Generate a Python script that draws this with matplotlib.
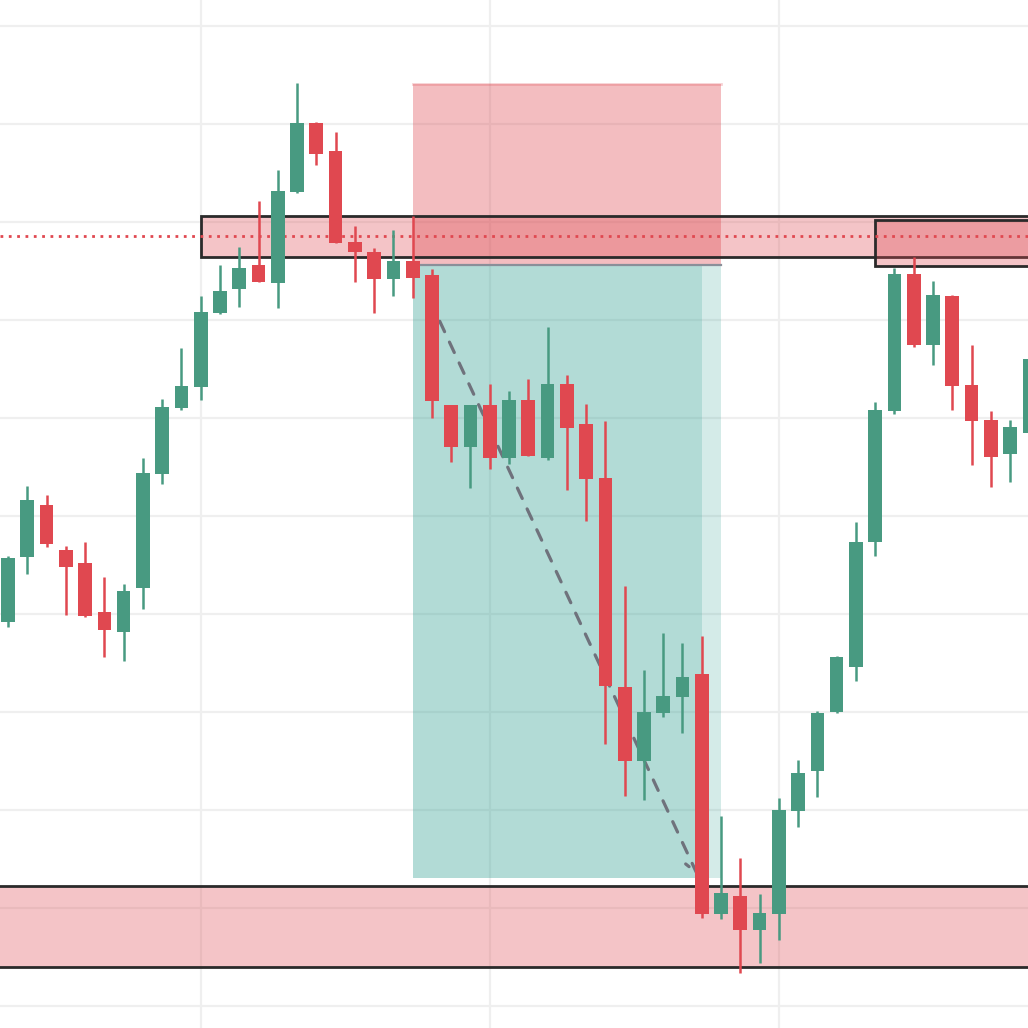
import matplotlib
matplotlib.use("Agg")
import matplotlib.pyplot as plt
from matplotlib.patches import Rectangle
from matplotlib.colors import to_rgba

# OHLC per bar (price units)
opens = [139.2, 145.8, 151.1, 146.5, 145.2, 140.2, 138.2, 142.7, 154.3, 161.0,
         163.2, 170.7, 173.2, 175.6, 173.8, 183.1, 190.1, 187.2, 178.0, 176.9,
         174.2, 176.0, 174.6, 161.3, 157.0, 161.3, 155.9, 161.8, 155.9, 163.5,
         159.4, 153.9, 132.6, 125.0, 129.9, 131.5, 133.9, 109.4, 111.2, 107.8,
         109.4, 119.9, 124.0, 130.0, 134.6, 147.3, 160.7, 174.7, 167.4, 172.4,
         163.4, 159.8, 156.3, 158.5]
highs = [145.9, 153.1, 152.1, 146.9, 147.3, 143.8, 143.1, 155.9, 161.9, 167.1,
         172.4, 175.6, 177.4, 182.1, 185.3, 194.2, 190.2, 189.2, 179.6, 177.3,
         179.2, 180.6, 175.2, 161.3, 161.3, 163.5, 162.8, 164.0, 169.3, 164.4,
         161.4, 159.7, 142.9, 134.3, 138.1, 137.0, 137.8, 119.4, 115.1, 111.4,
         121.2, 125.1, 130.1, 135.7, 149.4, 161.6, 175.3, 176.4, 174.0, 172.5,
         167.4, 160.7, 159.8, 166.9]
lows = [138.7, 144.1, 146.8, 139.9, 139.7, 135.6, 135.2, 140.5, 153.3, 160.8,
        161.8, 170.6, 171.3, 173.9, 171.2, 183.0, 185.8, 177.9, 173.9, 170.7,
        172.4, 172.2, 160.0, 155.5, 152.9, 154.8, 155.3, 156.1, 155.7, 152.7,
        149.5, 126.7, 121.4, 121.0, 129.5, 127.9, 109.0, 108.9, 103.4, 104.4,
        106.7, 118.3, 121.3, 129.9, 133.2, 145.9, 160.4, 167.2, 165.4, 160.8,
        155.2, 153.0, 153.5, 158.4]
closes = [145.7, 151.6, 147.1, 144.8, 139.8, 138.4, 142.3, 154.4, 161.1, 163.3,
          170.8, 173.0, 175.3, 173.9, 183.2, 190.1, 186.9, 177.9, 176.9, 174.2,
          176.0, 174.3, 161.7, 157.0, 161.3, 155.9, 161.8, 156.1, 163.5, 159.0,
          153.8, 132.7, 125.0, 130.0, 131.6, 133.6, 109.4, 111.5, 107.8, 109.5,
          120.0, 123.8, 129.9, 135.6, 147.3, 160.8, 174.7, 167.4, 172.6, 163.3,
          159.7, 156.0, 159.1, 166.0]

# zones (bar index / price)
zone_top = (10, 176.4, 180.6)        # start bar, low, high
zone_top2 = (45, 175.5, 180.2)
zone_bottom = (104.0, 112.2)
dotted_level = 178.6
trade_start, trade_stop_end, trade_end = 21, 36, 37
entry, stop, target = 175.6, 194.1, 113.1
arrow_from = (21.9, 172.0)
arrow_to = (35.8, 113.3)

GREEN = "#489a81"
RED = "#e04850"
PINK = "#de4a52"
TEAL = "#2a9d8f"
BLACK = "#2a2a2a"

fig = plt.figure(figsize=(10.28, 10.28), dpi=100)
ax = fig.add_axes([0, 0, 1, 1])
ax.set_xlim(-0.415, 52.93)
ax.set_ylim(97.76, 202.65)
ax.axis("off")

# grid
for p in range(100, 201, 10):
    ax.axhline(p, color="#efefef", lw=1.6, zorder=0)
for gx in [10, 25, 40]:
    ax.axvline(gx, color="#efefef", lw=1.6, zorder=0)

# trade box: stop (red) and target (teal)
ax.add_patch(Rectangle((trade_start, entry), trade_end - trade_start, stop - entry,
                       facecolor=to_rgba(PINK, 0.36), edgecolor="none", zorder=1))
ax.plot([trade_start, trade_end], [stop, stop], color=to_rgba(PINK, 0.25), lw=2, zorder=1)
ax.add_patch(Rectangle((trade_start, target), trade_stop_end - trade_start, entry - target,
                       facecolor=to_rgba(TEAL, 0.36), edgecolor="none", zorder=1))
ax.add_patch(Rectangle((trade_stop_end, target), trade_end - trade_stop_end, entry - target,
                       facecolor=to_rgba(TEAL, 0.2), edgecolor="none", zorder=1))
ax.plot([trade_start, trade_end], [entry, entry], color="#8a8f99", lw=1.6, zorder=1.5)

# supply / demand zones
x0, lo, hi = zone_top
ax.add_patch(Rectangle((x0, lo), 60, hi - lo, facecolor=to_rgba(PINK, 0.32),
                       edgecolor=BLACK, lw=2, zorder=2))
x0, lo, hi = zone_top2
ax.add_patch(Rectangle((x0, lo), 60, hi - lo, facecolor=to_rgba(PINK, 0.32),
                       edgecolor=BLACK, lw=2, zorder=2))
ax.add_patch(Rectangle((-5, zone_bottom[0]), 70, zone_bottom[1] - zone_bottom[0],
                       facecolor=to_rgba(PINK, 0.32), edgecolor=BLACK, lw=2, zorder=2))

ax.axhline(dotted_level, color=RED, lw=2, linestyle=(0, (1, 2)), zorder=2.2)

# dashed move arrow
ax.annotate("", xy=arrow_to, xytext=arrow_from,
            arrowprops=dict(arrowstyle="->", color="#6f727c", lw=2.3,
                            linestyle=(0, (3.6, 3.6)), mutation_scale=22,
                            shrinkA=0, shrinkB=0),
            zorder=2.5)

# candles
xs = list(range(len(opens)))
colors = [GREEN if c >= o else RED for o, c in zip(opens, closes)]
ax.vlines(xs, lows, highs, colors=colors, lw=1.8, zorder=3)
bodies = [max(abs(c - o), 0.15) for o, c in zip(opens, closes)]
bottoms = [min(o, c) for o, c in zip(opens, closes)]
ax.bar(xs, bodies, bottom=bottoms, width=0.71, color=colors, zorder=3.1)

fig.savefig("out.png", dpi=100)
